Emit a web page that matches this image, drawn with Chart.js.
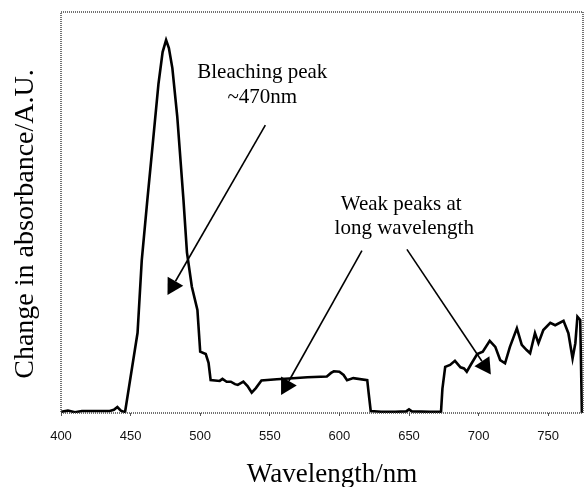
<!DOCTYPE html>
<html>
<head>
<meta charset="utf-8">
<script src="https://cdn.jsdelivr.net/npm/chart.js@4"></script>
<style>
  html, body { margin: 0; padding: 0; background: #fff; }
  #wrap { width: 585px; height: 487px; }
</style>
</head>
<body>
<div id="wrap"><canvas id="chart"></canvas></div>
<script>
// wavelengths (nm) and change in absorbance (arbitrary units, 0-100)
const wavelength = [
  400, 405, 410, 415, 425, 435, 438, 440.5, 443, 446,
  455, 458, 462, 465.5, 470, 473, 475.5, 477.5, 480, 483.5,
  488, 490.5, 494, 498, 500, 504, 506, 507.5, 514, 516,
  519, 522, 525, 527, 531, 534, 537, 540, 544, 555,
  564, 577, 591, 594, 596, 600, 603, 605.5, 610, 620,
  621, 622.5, 630, 640, 648, 650, 652, 665, 673, 674,
  676, 679.5, 683, 687, 689.5, 691.5, 695, 699, 703, 708,
  712, 715.5, 719, 722.5, 727.5, 731, 734.5, 737, 740.5, 743,
  746.5, 751.5, 755, 761, 764.5, 767.5, 769.5, 771, 773, 774.2
];
const absorbance = [
  0.3, 0.6, 0.2, 0.5, 0.5, 0.5, 0.8, 1.5, 0.6, 0.2,
  20, 38, 53, 65.6, 82, 90, 93, 91, 86, 74,
  53, 40, 31.5, 25.7, 15.3, 14.7, 12.5, 8.2, 8.0, 8.5,
  7.8, 7.8, 7.2, 7.0, 7.8, 6.7, 5.1, 6.2, 8.1, 8.4,
  8.6, 8.9, 9.1, 10.0, 10.4, 10.3, 9.5, 8.2, 8.7, 8.2,
  5, 0.5, 0.3, 0.3, 0.4, 0.9, 0.4, 0.3, 0.3, 6,
  11.5, 12.0, 13.0, 11.4, 11.1, 10.3, 12.4, 14.7, 15.3, 18.0,
  16.5, 13.2, 12.4, 16.5, 21.1, 17.0, 15.7, 14.9, 19.9, 17.4,
  20.7, 22.5, 21.9, 23.0, 19.9, 13.6, 17.4, 24.0, 23.2, 0
];
const xTicks = [400, 450, 500, 550, 600, 650, 700, 750];
const xTitle = 'Wavelength/nm';
const yTitle = 'Change in absorbance/A.U.';

// annotations in data coordinates
const noteLines = [
  { text: 'Bleaching peak', x: 544.6, y: 84.8 },
  { text: '~470nm', x: 544.6, y: 78.8 },
  { text: 'Weak peaks at', x: 644.4, y: 51.9 },
  { text: 'long wavelength', x: 646.6, y: 45.9 }
];
const arrows = [
  { from: [546.8, 71.8], to: [476.5, 29.4] },
  { from: [616.2, 40.5], to: [558.1, 4.5] },
  { from: [648.5, 40.8], to: [708.8, 9.6] }
];

const points = wavelength.map((w, i) => ({ x: w, y: absorbance[i] }));
const serif = '"Liberation Serif", "Times New Roman", serif';

const extras = {
  id: 'extras',
  afterDatasetsDraw(chart) {
    const { ctx, chartArea: a, scales: { x, y } } = chart;
    ctx.save();
    // dotted frame
    ctx.strokeStyle = '#444';
    ctx.lineWidth = 1.5;
    ctx.setLineDash([1, 1]);
    ctx.strokeRect(a.left, a.top, a.right - a.left, a.bottom - a.top);
    ctx.setLineDash([]);

    // arrows
    ctx.strokeStyle = '#000';
    ctx.fillStyle = '#000';
    ctx.lineWidth = 1.6;
    arrows.forEach(ar => {
      const x0 = x.getPixelForValue(ar.from[0]), y0 = y.getPixelForValue(ar.from[1]);
      const x1 = x.getPixelForValue(ar.to[0]), y1 = y.getPixelForValue(ar.to[1]);
      const ang = Math.atan2(y1 - y0, x1 - x0);
      const len = 16, half = 9;
      const bx = x1 - len * Math.cos(ang), by = y1 - len * Math.sin(ang);
      ctx.beginPath();
      ctx.moveTo(x0, y0);
      ctx.lineTo(bx, by);
      ctx.stroke();
      ctx.beginPath();
      ctx.moveTo(x1, y1);
      ctx.lineTo(bx + half * Math.sin(ang), by - half * Math.cos(ang));
      ctx.lineTo(bx - half * Math.sin(ang), by + half * Math.cos(ang));
      ctx.closePath();
      ctx.fill();
    });

    // annotation text
    ctx.font = '21px ' + serif;
    ctx.textAlign = 'center';
    ctx.textBaseline = 'middle';
    noteLines.forEach(n => {
      ctx.fillText(n.text, x.getPixelForValue(n.x), y.getPixelForValue(n.y));
    });

    // axis titles (the original sits off-centre, so drawn here)
    ctx.textBaseline = 'alphabetic';
    ctx.font = '27px ' + serif;
    ctx.fillText(xTitle, 332, 482);
    ctx.translate(33, 224);
    ctx.rotate(-Math.PI / 2);
    ctx.font = '28px ' + serif;
    ctx.fillText(yTitle, 0, 0);
    ctx.restore();
  }
};

new Chart(document.getElementById('chart'), {
  type: 'line',
  data: {
    datasets: [{
      data: points,
      borderColor: '#000',
      borderWidth: 2.6,
      pointRadius: 0,
      tension: 0,
      fill: false
    }]
  },
  options: {
    responsive: true,
    maintainAspectRatio: false,
    animation: false,
    layout: { padding: { left: 0, right: 2, top: 12, bottom: 0 } },
    plugins: { legend: { display: false }, tooltip: { enabled: false } },
    scales: {
      x: {
        type: 'linear',
        min: 400,
        max: 775,
        afterFit: s => { s.height = 74; },
        afterBuildTicks: s => { s.ticks = xTicks.map(v => ({ value: v })); },
        grid: { display: true, drawOnChartArea: false, drawTicks: true, tickLength: 3, color: '#555' },
        border: { display: false },
        ticks: {
          color: '#111',
          padding: 13,
          maxRotation: 0,
          font: { family: '"Liberation Sans", Arial, sans-serif', size: 13 }
        },
        title: { display: false }
      },
      y: {
        min: 0,
        max: 100,
        afterFit: s => { s.width = 61; },
        grid: { display: false },
        border: { display: false },
        ticks: { display: false },
        title: { display: false }
      }
    }
  },
  plugins: [extras]
});
</script>
</body>
</html>
